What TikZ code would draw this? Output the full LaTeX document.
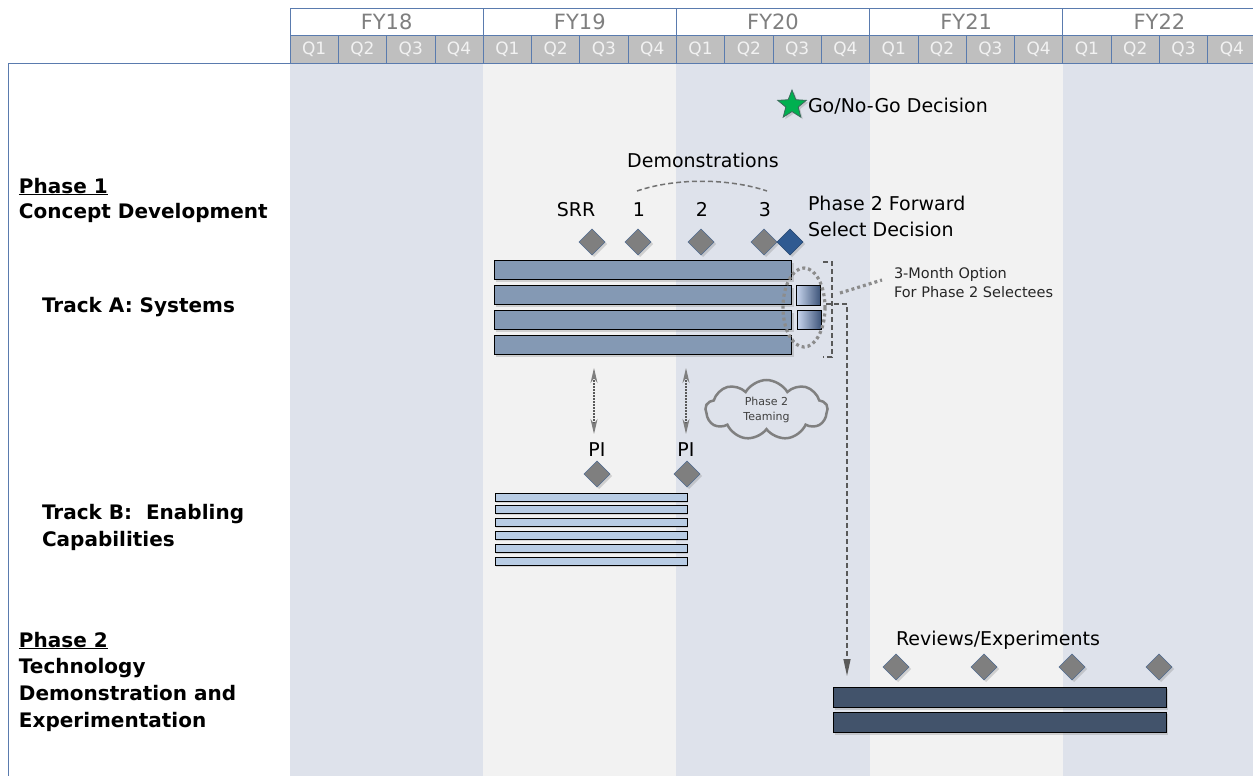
\documentclass[tikz,border=0pt]{standalone}
\usepackage{fontspec}
\setmainfont{DejaVu Sans}
\usetikzlibrary{shapes.geometric,shapes.symbols,shadows,arrows.meta}
\definecolor{bgblue}{HTML}{DEE2EB}
\definecolor{bggray}{HTML}{F2F2F2}
\definecolor{hdrline}{HTML}{5A7BAE}
\definecolor{qfill}{HTML}{BFBFBF}
\definecolor{qtext}{HTML}{F2F2F2}
\definecolor{yeartext}{HTML}{7F7F7F}
\definecolor{barAcol}{HTML}{8499B4}
\definecolor{barBcol}{HTML}{B8CCE4}
\definecolor{barPcol}{HTML}{42536B}
\definecolor{msgray}{HTML}{7F7F7F}
\definecolor{msedge}{HTML}{4F6A8F}
\definecolor{msblue}{HTML}{2F5A91}
\definecolor{msblueedge}{HTML}{27476F}
\definecolor{stargreen}{HTML}{00B050}
\definecolor{staredge}{HTML}{3A6B5A}
\definecolor{dotgray}{HTML}{8C8C8C}
\definecolor{dashgray}{HTML}{595959}
\definecolor{cloudgray}{HTML}{808080}
\definecolor{gradlight}{HTML}{CAD7EF}
\definecolor{graddark}{HTML}{3C5378}
\newcommand\myfs[2]{\fontsize{#1}{#2}\selectfont}
\begin{document}
\begin{tikzpicture}[x=1pt,y=-1pt,
  every node/.style={inner sep=0pt, outer sep=0pt},
  yearcell/.style={draw=hdrline, fill=white, line width=0.8pt, minimum width=193.2pt, minimum height=27pt, anchor=north west, text=yeartext, font=\myfs{21}{24}},
  qcell/.style={draw=hdrline, fill=qfill, line width=0.8pt, minimum width=48.3pt, minimum height=28pt, anchor=north west, text=qtext, font=\myfs{17}{20}},
  sidelbl/.style={anchor=base west, font=\bfseries\myfs{20}{24}, text=black},
  lbl/.style={font=\myfs{19}{23}, text=black},
  smalllbl/.style={anchor=base west, font=\myfs{14.5}{18}, text=black!85},
  shad/.style={drop shadow={opacity=0.3, shadow xshift=2pt, shadow yshift=-2pt}},
  milestone/.style={diamond, aspect=1, minimum width=26pt, minimum height=26pt, fill=msgray, draw=msedge, line width=0.6pt, shad},
  bluemilestone/.style={milestone, fill=msblue, draw=msblueedge},
  barA/.style={rectangle, anchor=north west, fill=barAcol, draw=black, line width=0.9pt, minimum width=297.5pt, minimum height=19pt, shad},
  barB/.style={rectangle, anchor=north west, fill=barBcol, draw=black, line width=0.8pt, minimum width=192pt, minimum height=8pt, drop shadow={opacity=0.25, shadow xshift=1pt, shadow yshift=-1.5pt}},
  barP/.style={rectangle, anchor=north west, fill=barPcol, draw=black, line width=0.9pt, minimum width=333pt, minimum height=20.5pt, shad},
  optbox/.style={rectangle, anchor=north west, left color=gradlight, right color=graddark, draw=black, line width=0.9pt, minimum width=24.5pt, minimum height=19.5pt},
  bigdots/.style={draw=dotgray, line width=3.2pt, dash pattern=on 3pt off 3pt},
  dashline/.style={draw=dashgray, line width=1.3pt, dash pattern=on 5pt off 3pt},
  dblarrow/.style={draw=dashgray, line width=1.5pt, dash pattern=on 1.5pt off 1.5pt, {Stealth[length=15pt,width=7pt,color=msgray]}-{Stealth[length=15pt,width=7pt,color=msgray]}}
]
\useasboundingbox (0,0) rectangle (1253,776);
% background columns
\fill[bgblue] (290,63) rectangle (483.2,776);
\fill[bggray] (483.2,63) rectangle (676.4,776);
\fill[bgblue] (676.4,63) rectangle (869.6,776);
\fill[bggray] (869.6,63) rectangle (1062.8,776);
\fill[bgblue] (1062.8,63) rectangle (1256,776);
% header
\foreach \lab [count=\i from 0] in {FY18,FY19,FY20,FY21,FY22} {
  \node[yearcell] (fy\i) at ({290+193.2*\i},8) {\lab};
  \foreach \q in {1,...,4} {
    \node[qcell] (q\i\q) at ({290+193.2*\i+48.3*(\q-1)},35) {Q\q};
  }
}
% left panel frame
\draw[hdrline, line width=0.8pt] (8,776) -- (8,63.5) -- (290,63.5);
% side labels
\node[sidelbl] (p1a) at (19,193) {\underline{Phase 1}};
\node[sidelbl] (p1b) at (19,218) {Concept Development};
\node[sidelbl] (ta) at (42,312) {Track A: Systems};
\node[sidelbl] (tb1) at (42,519) {Track B:\ \ Enabling};
\node[sidelbl] (tb2) at (42,546) {Capabilities};
\node[sidelbl] (p2a) at (19,647) {\underline{Phase 2}};
\node[sidelbl] (p2b) at (19,673) {Technology};
\node[sidelbl] (p2c) at (19,700) {Demonstration and};
\node[sidelbl] (p2d) at (19,727) {Experimentation};
% Go/No-Go
\node[star, star points=5, star point ratio=2.3, minimum size=30pt, fill=stargreen, draw=staredge, line width=0.8pt, shad] (star) at (792,105) {};
\node[lbl, anchor=base west] (gonogo) at (808,112) {Go/No-Go Decision};
% demonstrations
\node[lbl, anchor=base] (demo) at (703,167) {Demonstrations};
\coordinate (arcL) at (637,191);
\coordinate (arcR) at (767,191);
\draw[dashline, line width=1.5pt, draw=dashgray!85] (arcL) .. controls (675,178) and (728,178) .. (arcR);
\node[lbl, anchor=base] (srrl) at (576,216) {SRR};
\node[lbl, anchor=base] (d1l) at (639,216) {1};
\node[lbl, anchor=base] (d2l) at (702,216) {2};
\node[lbl, anchor=base] (d3l) at (765,216) {3};
\node[lbl, anchor=base west] (fwd1) at (808,210) {Phase 2 Forward};
\node[lbl, anchor=base west] (fwd2) at (808,236) {Select Decision};
\node[milestone] (srr) at (592,242) {};
\node[milestone] (d1) at (638,242) {};
\node[milestone] (d2) at (701,242) {};
\node[milestone] (d3) at (764,242) {};
\node[bluemilestone] (fs) at (790,242) {};
% track A bars
\node[barA] (a1) at (494,260.5) {};
\node[barA] (a2) at (494,285.5) {};
\node[barA] (a3) at (494,310.5) {};
\node[barA] (a4) at (494,335.5) {};
\node[optbox] (o2) at (796,285.5) {};
\node[optbox] (o3) at (797,310) {};
% option ellipse, bracket, note
\draw[bigdots] (804,307.5) ellipse (21 and 39.5);
\coordinate (brTop) at (823,262);
\coordinate (brBot) at (823,357);
\draw[dashline] (brTop) -- (832,262) -- (832,357) -- (brBot);
\node[smalllbl] (opt1) at (894,278) {3-Month Option};
\node[smalllbl] (opt2) at (894,297) {For Phase 2 Selectees};
\coordinate (noteA) at (840,293);
\coordinate (noteB) at (882,280);
\draw[bigdots] (noteA) -- (noteB);
% dashed arrow to phase 2
\coordinate (dstart) at (826,304);
\coordinate (dturn) at (847,304);
\coordinate (dend) at (847,676);
\draw[dashline, -{Triangle[length=17pt,width=7pt,color=dashgray]}] (dstart) -- (dturn) -- (dend);
% double arrows
\coordinate (u1) at (594,368);
\coordinate (l1) at (594,434);
\coordinate (u2) at (686,368);
\coordinate (l2) at (686,434);
\draw[dblarrow] (u1) -- (l1);
\draw[dblarrow] (u2) -- (l2);
% cloud
\node[cloud, cloud puffs=9, cloud puff arc=120, aspect=1.9, draw=cloudgray, line width=2.5pt, minimum width=122pt, minimum height=60pt, align=center, font=\myfs{11}{15}, text=black!75] (cloud) at (766.5,410) {Phase 2\\Teaming};
% PI
\node[lbl, anchor=base] (pi1l) at (597,456) {PI};
\node[lbl, anchor=base] (pi2l) at (686,456) {PI};
\node[milestone] (pi1) at (597,474) {};
\node[milestone] (pi2) at (687,474) {};
% track B bars
\foreach \k [count=\n] in {493,505.8,518.6,531.4,544.2,557} {
  \node[barB] (b\n) at (495,\k) {};
}
% phase 2
\node[lbl, anchor=base] (rev) at (998,645) {Reviews/Experiments};
\node[milestone] (r1) at (896,667) {};
\node[milestone] (r2) at (984,667) {};
\node[milestone] (r3) at (1072,667) {};
\node[milestone] (r4) at (1159,667) {};
\node[barP] (pb1) at (833,687) {};
\node[barP] (pb2) at (833,712) {};
\end{tikzpicture}
\end{document}
